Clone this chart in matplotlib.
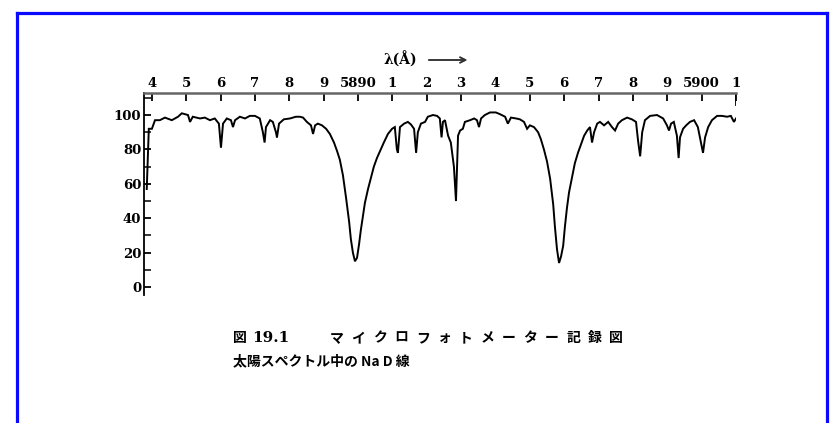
import matplotlib.pyplot as plt
from matplotlib.lines import Line2D
from matplotlib.ticker import MultipleLocator, FixedLocator

# Microphotometer trace of the solar spectrum around the Na D lines
wavelength = [
    5883.85, 5883.91, 5884.00, 5884.09, 5884.23, 5884.38, 5884.58, 5884.76,
    5884.87, 5885.05, 5885.11, 5885.19, 5885.40, 5885.54, 5885.69, 5885.83,
    5885.95, 5886.01, 5886.07, 5886.18, 5886.30, 5886.36, 5886.42, 5886.56,
    5886.71, 5886.85, 5887.00, 5887.14, 5887.23, 5887.28, 5887.32, 5887.44,
    5887.52, 5887.61, 5887.64, 5887.70, 5887.84, 5888.02, 5888.19, 5888.31,
    5888.40, 5888.51, 5888.63, 5888.69, 5888.75, 5888.83, 5888.95, 5889.07,
    5889.18, 5889.30, 5889.39, 5889.47, 5889.56, 5889.65, 5889.74, 5889.79,
    5889.85, 5889.91, 5889.97, 5890.03, 5890.08, 5890.14, 5890.20, 5890.29,
    5890.38, 5890.46, 5890.55, 5890.64, 5890.75, 5890.87, 5890.99, 5891.07,
    5891.13, 5891.16, 5891.22, 5891.34, 5891.45, 5891.54, 5891.63, 5891.69,
    5891.74, 5891.83, 5891.95, 5892.03, 5892.18, 5892.30, 5892.38, 5892.43,
    5892.47, 5892.53, 5892.62, 5892.70, 5892.79, 5892.85, 5892.91, 5892.97,
    5893.05, 5893.11, 5893.26, 5893.38, 5893.46, 5893.52, 5893.58, 5893.69,
    5893.84, 5894.01, 5894.13, 5894.28, 5894.36, 5894.45, 5894.60, 5894.71,
    5894.83, 5894.92, 5895.00, 5895.12, 5895.24, 5895.32, 5895.41, 5895.50,
    5895.59, 5895.68, 5895.73, 5895.79, 5895.85, 5895.91, 5895.97, 5896.02,
    5896.08, 5896.14, 5896.23, 5896.31, 5896.40, 5896.49, 5896.58, 5896.67,
    5896.75, 5896.81, 5896.87, 5896.96, 5897.04, 5897.16, 5897.28, 5897.39,
    5897.48, 5897.57, 5897.68, 5897.83, 5897.97, 5898.09, 5898.15, 5898.21,
    5898.27, 5898.35, 5898.50, 5898.70, 5898.88, 5898.99, 5899.05, 5899.11,
    5899.19, 5899.28, 5899.33, 5899.37, 5899.46, 5899.55, 5899.66, 5899.78,
    5899.89, 5899.98, 5900.04, 5900.10, 5900.19, 5900.30, 5900.45, 5900.59,
    5900.74, 5900.85, 5900.94, 5901.00,
]
intensity = [
    57, 92, 92, 97, 97, 98.5, 97, 99,
    101, 100, 96, 99, 98, 98.5, 97, 98,
    95, 81, 95, 98, 97, 93, 97, 99,
    98, 99.5, 99.5, 98, 90, 84, 93, 97,
    96, 90, 87, 95, 97.5, 98, 99, 99,
    98.5, 96, 94, 89, 94, 95, 94, 92,
    89, 84, 79, 74, 65, 52, 38, 28,
    20, 15, 17, 25, 33, 41, 49, 57,
    64, 70, 75, 79, 84, 89, 92, 93,
    80, 78, 93, 95, 96, 94.5, 92, 78,
    90, 95, 96, 99, 100, 99.5, 98, 87,
    96, 97, 88, 84, 70, 50, 88, 91,
    92, 96, 97, 98, 97, 93, 98, 100,
    101.5, 101.5, 100.5, 99, 95, 98.5, 98, 97.5,
    96, 92, 94, 93, 90, 86, 80, 73,
    63, 48, 35, 22, 14, 18, 24, 35,
    46, 55, 64, 72, 78, 83, 88, 91,
    93, 84, 90, 95, 96, 94, 96, 93,
    91, 95, 97, 98.5, 97.5, 96, 85, 76,
    90, 97, 99.5, 100, 98, 94, 91, 95,
    96, 88, 75, 87, 92, 94, 96, 97,
    93, 84, 78, 87, 93, 97, 99.5, 99.5,
    99, 99.5, 96, 98,
]

top_ticks = list(range(5884, 5902))
top_labels = ["4", "5", "6", "7", "8", "9", "5890", "1", "2", "3",
              "4", "5", "6", "7", "8", "9", "5900", "1"]
y_ticks = [0, 20, 40, 60, 80, 100]

caption1_head = "図 "
caption1_num = "19.1"
caption1_body = "マイクロフォトメーター記録図"
caption2 = "太陽スペクトル中の Na D 線"

W, H = 830, 423
fig = plt.figure(figsize=(W / 100, H / 100), dpi=100)
fig.patch.set_facecolor("white")

xlim = (5883.77, 5901.0)
ylim = (-4.6, 112.8)
ax = fig.add_axes([144 / W, (H - 295) / H, (736 - 144) / W, (295 - 93) / H])
ax.set_xlim(*xlim)
ax.set_ylim(*ylim)

ax.plot(wavelength, intensity, color="black", lw=1.4, solid_joinstyle="miter")

for s in ("bottom", "right"):
    ax.spines[s].set_visible(False)
ax.spines["top"].set_color("#666666")
ax.spines["top"].set_linewidth(1.8)
ax.spines["left"].set_linewidth(1.3)

tick_font = dict(family="DejaVu Serif", size=9.5, weight="bold")
ax.xaxis.tick_top()
ax.xaxis.set_major_locator(FixedLocator(top_ticks))
ax.set_xticklabels(top_labels, **tick_font)
ax.tick_params(axis="x", direction="in", length=6, width=1.3, pad=2,
               colors="black")

ax.yaxis.set_major_locator(FixedLocator(y_ticks))
ax.yaxis.set_minor_locator(MultipleLocator(10))
ax.set_yticklabels([str(v) for v in y_ticks], **tick_font)
ax.tick_params(axis="y", which="major", direction="in", length=5, width=1.3, pad=2)
ax.tick_params(axis="y", which="minor", direction="in", length=5, width=1.1)
ax.axvline(xlim[1], ymin=0.94, ymax=1.0, color="black", lw=1.3)

# axis title with arrow
fig.text(400 / W, 1 - 60 / H, "λ(Å)", ha="center", va="center",
         family="DejaVu Serif", fontsize=10, weight="bold")
fig.add_artist(plt.annotate("", xy=(470 / W, 1 - 60 / H), xytext=(426 / W, 1 - 60 / H),
                            xycoords="figure fraction", textcoords="figure fraction",
                            arrowprops=dict(arrowstyle="->", lw=1.1, color="#333333")))

# caption
cjk = ["Noto Sans CJK JP", "DejaVu Sans"]
fig.text(233 / W, 1 - 338 / H, caption1_head, ha="left", va="center",
         family=cjk, fontsize=10, weight="bold")
fig.text(252 / W, 1 - 338 / H, caption1_num, ha="left", va="center",
         family="DejaVu Serif", fontsize=11, weight="bold")
for i, ch in enumerate(caption1_body):
    fig.text((330 + i * 21.5) / W, 1 - 338 / H, ch, ha="left", va="center",
             family=cjk, fontsize=10, weight="bold")
fig.text(233 / W, 1 - 361 / H, caption2, ha="left", va="center",
         family=cjk, fontsize=10, weight="bold")

# blue frame
blue = "#0a0aff"
fx = lambda px: px / W
fy = lambda py: 1 - py / H
fig.add_artist(Line2D([fx(17), fx(17)], [fy(13), fy(423)], color=blue, lw=2.3))
fig.add_artist(Line2D([fx(17), fx(827)], [fy(13), fy(13)], color=blue, lw=2.3))
fig.add_artist(Line2D([fx(827), fx(827)], [fy(13), fy(423)], color=blue, lw=2.3))

fig.savefig("out.png", dpi=100)
